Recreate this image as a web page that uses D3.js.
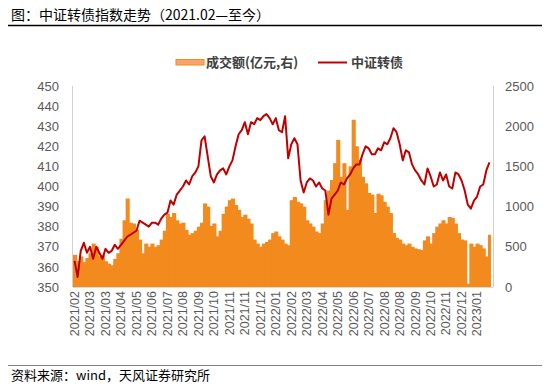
<!DOCTYPE html>
<html>
<head>
<meta charset="utf-8">
<script src="https://cdn.jsdelivr.net/npm/d3@7"></script>
<style>
  body { margin: 0; background: #fff; }
  svg text { font-family: "Liberation Sans", Arial, sans-serif; }
  .cjk { font-family: "Noto Sans CJK SC", "Liberation Sans", sans-serif; }
</style>
</head>
<body>
<svg id="chart" width="550" height="392"></svg>
<script>
// 中证转债 index (left axis) and turnover in 100m yuan (right axis), 2021/02 - 2023/01
var indexVals = [
  363, 355, 368, 372, 367, 370, 364, 370, 367, 364,
  369, 367, 368, 371, 369, 371, 373, 375, 376, 377,
  378, 383, 382, 381, 380, 382, 382, 381, 384, 386,
  387, 393, 391, 396, 398, 400, 403, 401, 405, 407,
  410, 423, 425, 415, 405, 402, 406, 408, 409, 406,
  410, 413, 420, 426, 428, 432, 426, 432, 431, 434,
  433, 435, 436, 434, 431, 434, 428, 427, 435, 414,
  421, 424, 421, 403, 397, 402, 404, 403, 400, 402,
  399, 398, 386, 394, 396, 398, 402, 401, 404, 406,
  409, 411, 411, 416, 420, 419, 416, 416, 419, 418,
  422, 421, 424, 429, 427, 421, 413, 418, 417, 411,
  408, 406, 403, 401, 409, 405, 400, 401, 407, 403,
  406, 400, 399, 407, 406, 403, 398, 391, 389, 393,
  395, 400, 401, 408, 412
];

var volumeVals = [
  400, 320, 380, 310, 360, 420, 540, 500, 380, 400,
  320, 290, 270, 350, 420, 600, 830, 1100, 800, 790,
  710, 590, 420, 540, 500, 540, 500, 520, 590, 700,
  910, 870, 920, 830, 790, 800, 710, 650, 670, 700,
  750, 800, 1040, 1000, 760, 790, 630, 700, 910, 1000,
  1080, 1100, 1020, 960, 870, 900, 850, 790, 590, 540,
  500, 540, 560, 590, 670, 690, 630, 590, 540, 520,
  1080, 1120, 1060, 1040, 1000, 830, 790, 750, 690, 670,
  790, 1080, 1200, 1330, 1540, 1830, 1370, 1540, 960, 1500,
  2080, 1750, 1580, 1370, 1290, 1170, 1150, 920, 1160, 1140,
  1060, 1000, 920, 670, 610, 590, 540, 520, 540, 500,
  480, 470, 460, 580, 630, 540, 670, 750, 790, 830,
  790, 870, 860, 790, 670, 590, 580, 40, 540, 500,
  540, 520, 480, 380, 650
];

// one tick label every 5 points
var tickLabels = [
  '2021/02', '2021/03', '2021/03', '2021/04', '2021/05', '2021/06', '2021/07',
  '2021/08', '2021/09', '2021/10', '2021/11', '2021/11', '2021/12', '2022/01',
  '2022/02', '2022/03', '2022/04', '2022/05', '2022/06', '2022/07', '2022/08',
  '2022/08', '2022/09', '2022/10', '2022/11', '2022/12', '2023/01'
];
var tickEvery = 5;

var leftTicks = [350, 360, 370, 380, 390, 400, 410, 420, 430, 440, 450];
var rightTicks = [0, 500, 1000, 1500, 2000, 2500];

var svg = d3.select('#chart');
var margin = { left: 73, right: 491, top: 86, bottom: 287 };

var x = d3.scaleBand()
  .domain(d3.range(indexVals.length))
  .range([margin.left, margin.right])
  .padding(0);

var yLeft = d3.scaleLinear().domain([350, 450]).range([margin.bottom, margin.top]);
var yRight = d3.scaleLinear().domain([0, 2500]).range([margin.bottom, margin.top]);

// Title + rule
svg.append('text')
  .attr('class', 'cjk')
  .attr('x', 11).attr('y', 20)
  .style('font-size', '14px')
  .style('fill', '#000')
  .text('图：中证转债指数走势（2021.02—至今）');

svg.append('line')
  .attr('x1', 8).attr('x2', 542)
  .attr('y1', 25.5).attr('y2', 25.5)
  .style('stroke', '#000').style('stroke-width', 1.5);

// Legend
var legend = svg.append('g').attr('class', 'legend');
legend.append('rect')
  .attr('x', 176).attr('y', 59.5)
  .attr('width', 28).attr('height', 5.5)
  .style('fill', '#f9a46a').style('stroke', '#f28a1e').style('stroke-width', 1);
legend.append('text')
  .attr('class', 'cjk')
  .attr('x', 206).attr('y', 62).attr('dy', '0.35em')
  .style('font-size', '13px').style('font-weight', 'bold').style('fill', '#404040')
  .text('成交额(亿元,右)');
legend.append('line')
  .attr('x1', 318).attr('x2', 347)
  .attr('y1', 62.5).attr('y2', 62.5)
  .style('stroke', '#c00000').style('stroke-width', 2);
legend.append('text')
  .attr('class', 'cjk')
  .attr('x', 351).attr('y', 62).attr('dy', '0.35em')
  .style('font-size', '13px').style('font-weight', 'bold').style('fill', '#404040')
  .text('中证转债');

// Volume bars (right axis) - widened a touch so neighbours overlap, no seams
svg.append('g').attr('class', 'bars')
  .selectAll('rect')
  .data(volumeVals)
  .enter().append('rect')
  .attr('x', (d, i) => { return x(i); })
  .attr('y', d => { return yRight(d); })
  .attr('width', (d, i) => { return i === volumeVals.length - 1 ? x.bandwidth() : x.bandwidth() + 1; })
  .attr('height', d => { return yRight(0) - yRight(d); })
  .style('fill', '#f28a1e');

// Index line (left axis)
var line = d3.line()
  .x((d, i) => { return x(i) + x.bandwidth() / 2; })
  .y(d => { return yLeft(d); });

svg.append('path')
  .datum(indexVals)
  .attr('d', line)
  .style('fill', 'none')
  .style('stroke', '#c00000')
  .style('stroke-width', 2)
  .style('stroke-linejoin', 'round');

// Axis frame lines
svg.append('line')
  .attr('x1', margin.left - 0.5).attr('x2', margin.left - 0.5)
  .attr('y1', margin.top).attr('y2', margin.bottom)
  .style('stroke', '#d0d0d0');
svg.append('line')
  .attr('x1', margin.right + 2.5).attr('x2', margin.right + 2.5)
  .attr('y1', margin.top).attr('y2', margin.bottom)
  .style('stroke', '#d0d0d0');
svg.append('line')
  .attr('x1', margin.left).attr('x2', margin.right + 2.5)
  .attr('y1', margin.bottom + 0.5).attr('y2', margin.bottom + 0.5)
  .style('stroke', '#d9d9d9');

// Left ticks
var leftAxis = d3.axisLeft(yLeft).tickValues(leftTicks).tickSize(0).tickPadding(0);
var gl = svg.append('g')
  .attr('transform', 'translate(59,0)')
  .call(leftAxis);
gl.select('.domain').remove();
gl.selectAll('text')
  .style('font-family', '"Liberation Sans", Arial, sans-serif')
  .style('font-size', '13px')
  .style('fill', '#595959');

// Right ticks
var rightAxis = d3.axisRight(yRight)
  .tickValues(rightTicks)
  .tickFormat(d3.format('d'))
  .tickSize(0).tickPadding(0);
var gr = svg.append('g')
  .attr('transform', 'translate(505,0)')
  .call(rightAxis);
gr.select('.domain').remove();
gr.selectAll('text')
  .style('font-family', '"Liberation Sans", Arial, sans-serif')
  .style('font-size', '13px')
  .style('fill', '#595959');

// Date labels, rotated
var xTickIdx = tickLabels.map((d, k) => { return k * tickEvery; });
var bottomAxis = d3.axisBottom(x)
  .tickValues(xTickIdx)
  .tickFormat((d, k) => { return tickLabels[k]; })
  .tickSize(0);
var gb = svg.append('g')
  .attr('transform', 'translate(0,' + (margin.bottom + 4) + ')')
  .call(bottomAxis);
gb.select('.domain').remove();
gb.selectAll('text')
  .attr('transform', 'rotate(-90)')
  .attr('x', 0).attr('y', 0)
  .attr('dx', 0).attr('dy', '0.35em')
  .style('text-anchor', 'end')
  .style('font-family', '"Liberation Sans", Arial, sans-serif')
  .style('font-size', '12.5px')
  .style('fill', '#595959');

// Source
svg.append('line')
  .attr('x1', 8).attr('x2', 542)
  .attr('y1', 365.5).attr('y2', 365.5)
  .style('stroke', '#808080').style('stroke-width', 1);
svg.append('text')
  .attr('class', 'cjk')
  .attr('x', 11).attr('y', 380)
  .style('font-size', '13px')
  .style('fill', '#000')
  .text('资料来源：wind，天风证券研究所');
</script>
</body>
</html>
